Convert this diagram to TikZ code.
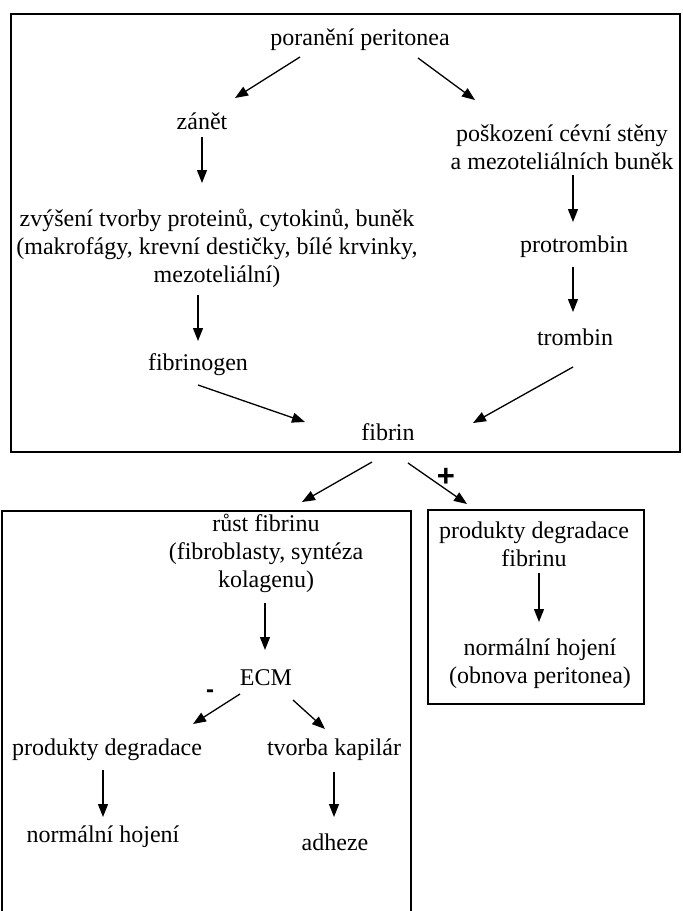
\documentclass[tikz,border=0pt]{standalone}
\usepackage{fontspec}
\setmainfont{Liberation Serif}
\newfontfamily\signfont{Liberation Sans}
\usepackage{tikz}
\usetikzlibrary{arrows.meta,positioning}

\tikzset{
  txt/.style={inner sep=0pt, align=center, font=\fontsize{24}{28}\selectfont},
  sign/.style={inner sep=0pt, font=\signfont\bfseries\fontsize{24}{28}\selectfont},
  arr/.style={line width=1.3pt, -{Triangle[length=13pt,width=10pt]}},
  frame/.style={line width=2pt}
}

\begin{document}
\begin{tikzpicture}[x=1pt,y=-1pt]
      \useasboundingbox (0,0) rectangle (683,911);

      % frames
      \draw[frame] (11,14) rectangle (680,452);
      \draw[frame] (1.5,911) -- (1.5,511) -- (410.5,511) -- (410.5,911);
      \draw[frame] (428,510) rectangle (644,704);

      % upper part
      \node[txt] (por)  at (360,40)    {poranění peritonea};
      \node[txt] (zan)  at (202,121)   {zánět};
      \node[txt] (pos)  at (562,147.5) {poškození cévní stěny\\a mezoteliálních buněk};
      \node[txt] (zvy)  at (217,248)   {zvýšení tvorby proteinů, cytokinů, buněk\\(makrofágy, krevní destičky, bílé krvinky,\\mezoteliální)};
      \node[txt] (prot) at (574,247)   {protrombin};
      \node[txt] (trom) at (575,337)   {trombin};
      \node[txt] (fbg)  at (198,365)   {fibrinogen};
      \node[txt] (fib)  at (388,432)   {fibrin};

      % lower part
      \node[txt] (rust) at (266,553)   {růst fibrinu\\(fibroblasty, syntéza\\kolagenu)};
      \node[txt] (ecm)  at (266,678)   {ECM};
      \node[txt] (pdl)  at (107,750)   {produkty degradace};
      \node[txt] (tvk)  at (334,750)   {tvorba kapilár};
      \node[txt] (nhl)  at (103,837)   {normální hojení};
      \node[txt] (adh)  at (335,842)   {adheze};
      \node[txt] (pdf)  at (534,544)   {produkty degradace\\fibrinu};
      \node[txt] (nhr)  at (540,664)   {normální hojení\\(obnova peritonea)};

      \node[sign, font=\signfont\bfseries\fontsize{31}{34}\selectfont] (plus) at (446,477) {+};
      \node[sign] (minus) at (210,694) {-};

      \draw[arr] ([shift={(-60,17)}]por.center) -- ([shift={(33,-23)}]zan.center);
      \draw[arr] ([shift={(58,18)}]por.center) -- ([shift={(-87,-47.5)}]pos.center);
      \draw[arr] ([shift={(0,16)}]zan.center) -- ([shift={(-15,-65)}]zvy.center);
      \draw[arr] ([shift={(-19,47)}]zvy.center) -- ([shift={(0,-24)}]fbg.center);
      \draw[arr] ([shift={(0,20)}]fbg.center) -- ([shift={(-83,-10)}]fib.center);
      \draw[arr] ([shift={(11,27.5)}]pos.center) -- ([shift={(-1,-25)}]prot.center);
      \draw[arr] ([shift={(-1,20)}]prot.center) -- ([shift={(-2,-25)}]trom.center);
      \draw[arr] ([shift={(-2,30)}]trom.center) -- ([shift={(85,-9)}]fib.center);

      \draw[arr] ([shift={(-16,30)}]fib.center) -- ([shift={(36,-51)}]rust.center);
      \draw[arr] ([shift={(20,31)}]fib.center) -- ([shift={(-67,-40)}]pdf.center);
      \draw[arr] ([shift={(-1,50)}]rust.center) -- ([shift={(-1,-28)}]ecm.center);
      \draw[arr] ([shift={(-26,16)}]ecm.center) -- ([shift={(86,-26)}]pdl.center);
      \draw[arr] ([shift={(27,22)}]ecm.center) -- ([shift={(-9,-21)}]tvk.center);
      \draw[arr] ([shift={(-4,20)}]pdl.center) -- ([shift={(0,-20)}]nhl.center);
      \draw[arr] ([shift={(0,22)}]tvk.center) -- ([shift={(-1,-25)}]adh.center);
      \draw[arr] ([shift={(5,29)}]pdf.center) -- ([shift={(-1,-42)}]nhr.center);
    \end{tikzpicture}
\end{document}
